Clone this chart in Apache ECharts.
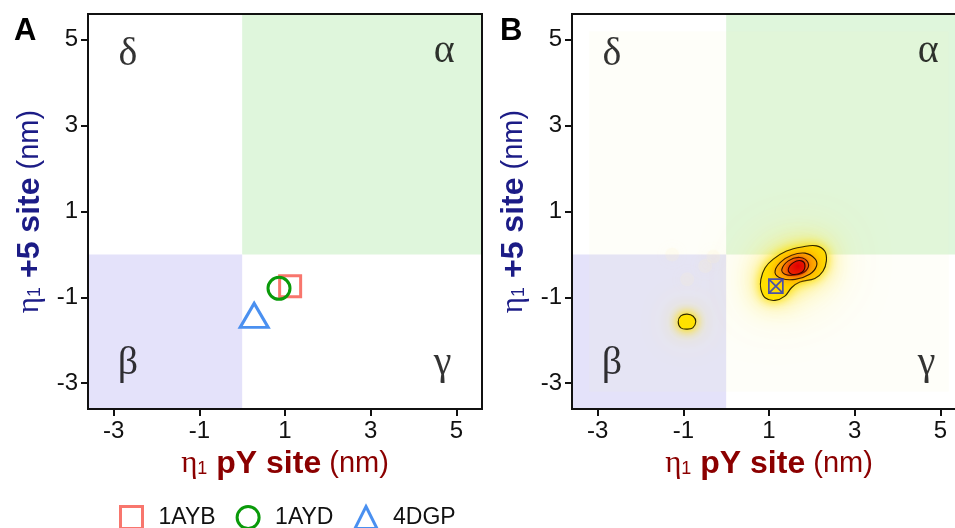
<!DOCTYPE html>
<html>
<head>
<meta charset="utf-8">
<script src="https://cdn.jsdelivr.net/npm/echarts@6/dist/echarts.min.js"></script>
<style>
html, body { margin: 0; padding: 0; background: #fff; }
#container { width: 955px; height: 528px; }
</style>
</head>
<body>
<div id="container"></div>
<script>
var dom = document.getElementById('container');
var myChart = echarts.init(dom);

// axes
var xTicks = [-3, -1, 1, 3, 5];
var yTicks = [-3, -1, 1, 3, 5];
var axisMin = -3.6, axisMax = 5.6;

// quadrant names and where they sit
var quadNames = ['δ', 'α', 'β', 'γ'];
var quadX = [-2.67, 4.72, -2.67, 4.68];
var quadY = [4.66, 4.72, -2.55, -2.55];

// panel A: crystal structures
var pdbNames = ['1AYB', '1AYD', '4DGP'];
var pdbX = [1.12, 0.86, 0.28];
var pdbY = [-0.74, -0.79, -1.42];

// panel B: reference structure
var refX = [1.16];
var refY = [-0.74];

// panel B: density contours (x, y in nm)
var contourOuter = [[0.81, -0.58], [0.91, -0.31], [1.10, -0.11], [1.41, 0.08], [1.80, 0.18], [2.11, 0.20],
  [2.30, 0.08], [2.34, -0.15], [2.26, -0.39], [2.07, -0.56], [1.72, -0.64], [1.53, -0.77],
  [1.37, -0.97], [1.14, -1.07], [0.91, -1.01], [0.81, -0.81]];
var contour2 = [[1.14, -0.42], [1.26, -0.19], [1.53, -0.02], [1.84, 0.03], [2.07, -0.10], [2.11, -0.27],
  [1.95, -0.46], [1.61, -0.58], [1.30, -0.56]];
var contour3 = [[1.30, -0.35], [1.45, -0.15], [1.72, -0.07], [1.91, -0.19], [1.86, -0.38], [1.61, -0.48], [1.37, -0.46]];
var contour4 = [[1.45, -0.35], [1.57, -0.19], [1.76, -0.15], [1.84, -0.27], [1.76, -0.42], [1.53, -0.46]];
var contourMinor = [[-1.12, -1.57], [-1.06, -1.43], [-0.91, -1.39], [-0.77, -1.44], [-0.71, -1.57],
  [-0.78, -1.71], [-0.91, -1.74], [-1.06, -1.71]];

// faint density spots in beta region
var faintX = [-1.26, -0.49, -0.91, -0.30];
var faintY = [0.0, -0.27, -0.58, -0.05];

function radial(inner, outer) {
  return {type: 'radial', x: 0.58, y: 0.4, r: 0.65,
    colorStops: [{offset: 0, color: inner}, {offset: 1, color: outer}]};
}

var contours = [contourOuter, contourOuter, contourOuter, contour2, contour3, contour4,
  contourMinor, contourMinor, contourMinor];
var levelStyle = [
  {fill: '#fff09a', stroke: 'none', blur: 60, glow: 'rgba(255,238,120,0.85)'},
  {fill: '#ffe640', stroke: 'none', blur: 26, glow: 'rgba(255,228,30,1)'},
  {fill: radial('#ffb800', '#ffe000'), stroke: '#2e2600', blur: 10, glow: 'rgba(255,224,0,1)'},
  {fill: radial('#f88a00', '#ffae00'), stroke: '#2e1c00', blur: 6, glow: '#ffa800'},
  {fill: radial('#ee5a00', '#f57800'), stroke: '#2e1200', blur: 5, glow: '#f27000'},
  {fill: radial('#e20000', '#ea2400'), stroke: '#2e0600', blur: 4, glow: '#e81500'},
  {fill: '#fff09a', stroke: 'none', blur: 40, glow: 'rgba(255,238,120,0.85)'},
  {fill: '#ffe640', stroke: 'none', blur: 18, glow: 'rgba(255,228,30,1)'},
  {fill: '#ffe200', stroke: '#2e2600', blur: 8, glow: 'rgba(255,225,0,1)'}
];

var fontSans = 'Liberation Sans';
var fontSerif = 'Liberation Serif';

function titleRich(color) {
  return {
    e: {fontFamily: fontSerif, fontSize: 31, color: color},
    s: {fontFamily: fontSans, fontSize: 18, color: color, verticalAlign: 'bottom', padding: [0, 0, 2, 0]},
    b: {fontFamily: fontSans, fontSize: 32, fontWeight: 'bold', color: color},
    r: {fontFamily: fontSans, fontSize: 29, color: color}
  };
}

function makeX(gi) {
  return {
    gridIndex: gi, type: 'value', min: axisMin, max: axisMax,
    splitLine: {show: false},
    axisLine: {show: false, onZero: false},
    axisTick: {show: true, customValues: xTicks, length: 7, lineStyle: {color: '#111', width: 2}},
    axisLabel: {customValues: xTicks, fontSize: 24, color: '#111', margin: 10, fontFamily: fontSans},
    name: '{e|η}{s|1}{b| pY site}{r| (nm)}',
    nameLocation: 'middle', nameGap: 38,
    nameTextStyle: {color: '#8b0000', rich: titleRich('#8b0000')}
  };
}

function makeY(gi) {
  return {
    gridIndex: gi, type: 'value', min: axisMin, max: axisMax,
    splitLine: {show: false},
    axisLine: {show: false, onZero: false},
    axisTick: {show: true, customValues: yTicks, length: 7, lineStyle: {color: '#111', width: 2}},
    axisLabel: {customValues: yTicks, fontSize: 24, color: '#111', margin: 10, fontFamily: fontSans},
    name: '{e|η}{s|1}{b| +5 site}{r| (nm)}',
    nameLocation: 'middle', nameGap: 42, nameRotate: 90,
    nameTextStyle: {color: '#1c1c86', rich: titleRich('#1c1c86')}
  };
}

function quadAreas(withRaster) {
  var d = [
    [{xAxis: 0, yAxis: 0, itemStyle: {color: '#dff6dc'}}, {xAxis: axisMax, yAxis: axisMax}],
    [{xAxis: axisMin, yAxis: axisMin, itemStyle: {color: '#e4e2fa'}}, {xAxis: 0, yAxis: 0}]
  ];
  if (withRaster) {
    d.push([{xAxis: -3.2, yAxis: -3.2, itemStyle: {color: 'rgba(250,250,200,0.1)'}}, {xAxis: 5.2, yAxis: 5.2}]);
  }
  return d;
}

function quadSeries(gi) {
  return {
    type: 'scatter', xAxisIndex: gi, yAxisIndex: gi, z: 1,
    symbolSize: 1, itemStyle: {color: 'rgba(0,0,0,0)'},
    silent: true,
    data: quadNames.map(function (n, i) { return {name: n, value: [quadX[i], quadY[i]]}; }),
    label: {show: true, position: 'inside', formatter: '{b}', fontFamily: fontSerif, fontSize: 40, color: '#000'},
    markArea: {silent: true, data: quadAreas(gi === 1)}
  };
}

var pdbSymbol = ['rect', 'circle', 'triangle'];
var pdbSize = [[21, 21], [22, 22], [28, 24]];
var pdbColor = ['#f8766d', '#0a9a0a', '#4a90f0'];

var series = [quadSeries(0), quadSeries(1)];

pdbNames.forEach(function (n, i) {
  series.push({
    name: n, type: 'scatter', xAxisIndex: 0, yAxisIndex: 0, z: 3,
    symbol: pdbSymbol[i], symbolSize: pdbSize[i],
    itemStyle: {color: 'rgba(0,0,0,0)', borderColor: pdbColor[i], borderWidth: 3, opacity: 1},
    data: [[pdbX[i], pdbY[i]]]
  });
});

series.push({
  name: 'faint', type: 'scatter', xAxisIndex: 1, yAxisIndex: 1, z: 2, silent: true,
  symbolSize: 14,
  itemStyle: {color: 'rgba(255,244,200,0.2)', shadowBlur: 14, shadowColor: 'rgba(255,238,180,0.4)'},
  data: faintX.map(function (x, i) { return [x, faintY[i]]; })
});

series.push({
  name: 'density', type: 'custom', xAxisIndex: 1, yAxisIndex: 1, z: 3, silent: true,
  data: contours.map(function (c, i) { return [c[0][0], c[0][1], i]; }),
  renderItem: function (params, api) {
    var idx = api.value(2);
    var st = levelStyle[idx];
    var pts = contours[idx].map(function (p) { return api.coord(p); });
    return {
      type: 'polygon',
      shape: {points: pts, smooth: 0.4},
      style: {fill: st.fill, stroke: st.stroke, lineWidth: 1.1, shadowBlur: st.blur, shadowColor: st.glow}
    };
  }
});

series.push({
  name: 'ref', type: 'scatter', xAxisIndex: 1, yAxisIndex: 1, z: 5,
  symbol: 'path://M0,0H10V10H0Z M0,0L10,10 M10,0L0,10', symbolSize: 14,
  itemStyle: {color: 'rgba(0,0,0,0)', borderColor: '#1f2fd0', borderWidth: 1.7},
  data: refX.map(function (x, i) { return [x, refY[i]]; })
});

option = {
  animation: false,
  backgroundColor: '#fff',
  grid: [
    {left: 88, top: 14, width: 394, height: 395, show: true, z: 10, outerBoundsMode: 'none', containLabel: false,
      backgroundColor: 'transparent', borderColor: '#111', borderWidth: 2},
    {left: 572, top: 14, width: 394, height: 395, show: true, z: 10, outerBoundsMode: 'none', containLabel: false,
      backgroundColor: 'transparent', borderColor: '#111', borderWidth: 2}
  ],
  xAxis: [makeX(0), makeX(1)],
  yAxis: [makeY(0), makeY(1)],
  legend: {
    data: pdbNames, left: 114, top: 500, itemWidth: 22, itemHeight: 22, itemGap: 20,
    itemStyle: {borderWidth: 3},
    textStyle: {fontSize: 23, color: '#111', fontFamily: fontSans, padding: [0, 0, 0, 11]}
  },
  graphic: [
    {type: 'text', left: 14, top: 16, style: {text: 'A', font: 'bold 31px "Liberation Sans"', fill: '#000'}},
    {type: 'text', left: 500, top: 16, style: {text: 'B', font: 'bold 31px "Liberation Sans"', fill: '#000'}}
  ],
  series: series
};

if (option && typeof option === 'object') {
  myChart.setOption(option, true);
}
</script>
</body>
</html>
